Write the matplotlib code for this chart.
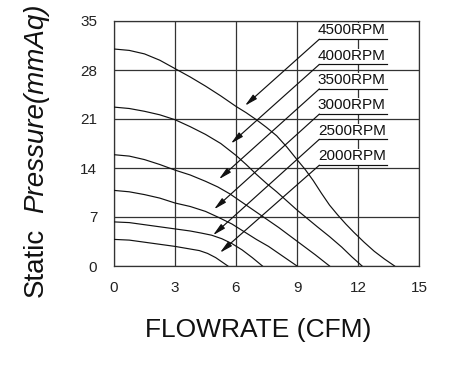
import matplotlib
matplotlib.use("Agg")
import matplotlib.pyplot as plt
from matplotlib.patches import Rectangle

plt.rcParams['font.family'] = ['Liberation Sans', 'DejaVu Sans']

# fan curves (flow in CFM, static pressure in mmAq)
x4500 = [0, 0.75, 1.5, 2.25, 3, 3.75, 4.5, 5.25, 6, 6.5, 7, 7.5, 8, 8.5, 9,
         9.4, 9.8, 10.2, 10.6, 11.0, 11.4, 11.8, 12.3, 12.8, 13.3, 13.8]
y4500 = [31.0, 30.8, 30.3, 29.4, 28.2, 27.0, 25.7, 24.3, 22.8, 21.9, 20.9,
         19.8, 18.6, 17.0, 15.2, 13.8, 12.2, 10.4, 8.7, 7.3, 6.0, 4.8, 3.4,
         2.1, 1.0, 0]

x4000 = [0, 0.75, 1.5, 2.25, 3, 3.75, 4.5, 5.25, 6, 6.5, 7, 7.5, 8, 8.5, 9,
         9.5, 10, 10.6, 11.2, 11.7, 12.2]
y4000 = [22.7, 22.5, 22.1, 21.6, 20.9, 19.9, 18.8, 17.5, 15.8, 14.5, 13.1,
         11.8, 10.6, 9.3, 8.0, 6.8, 5.6, 4.2, 2.7, 1.3, 0]

x3500 = [0, 0.75, 1.5, 2.25, 3, 3.75, 4.5, 5.1, 5.7, 6.3, 6.9, 7.5, 8.1, 8.7,
         9.3, 9.9, 10.6]
y3500 = [15.9, 15.7, 15.2, 14.5, 13.7, 13.0, 12.1, 11.3, 10.3, 9.1, 7.9, 6.7,
         5.5, 4.2, 2.9, 1.6, 0]

x3000 = [0, 0.75, 1.5, 2.25, 3, 3.75, 4.5, 5.1, 5.8, 6.4, 7.0, 7.6, 8.3, 9.0]
y3000 = [10.8, 10.6, 10.2, 9.7, 9.0, 8.5, 7.8, 7.0, 6.0, 4.9, 3.8, 2.8, 1.4, 0]

x2500 = [0, 0.75, 1.5, 2.25, 3, 3.75, 4.3, 4.8, 5.3, 5.8, 6.3, 6.8, 7.3]
y2500 = [6.3, 6.2, 5.9, 5.6, 5.3, 5.0, 4.7, 4.4, 3.9, 3.2, 2.3, 1.2, 0]

x2000 = [0, 0.75, 1.5, 2.25, 3, 3.6, 4.2, 4.6, 5.0, 5.3, 5.6]
y2000 = [3.8, 3.7, 3.4, 3.1, 2.8, 2.5, 2.2, 1.8, 1.2, 0.6, 0]

curves = [(x4500, y4500), (x4000, y4000), (x3500, y3500),
          (x3000, y3000), (x2500, y2500), (x2000, y2000)]

rpm_labels = ['4500RPM', '4000RPM', '3500RPM', '3000RPM', '2500RPM', '2000RPM']
label_y = [32.4, 28.8, 25.3, 21.7, 18.1, 14.4]      # underline level
tip_x = [6.44, 5.75, 5.16, 4.92, 4.87, 5.21]        # where each leader points
tip_y = [22.9, 17.5, 12.4, 8.1, 4.4, 1.9]

xticks = [0, 3, 6, 9, 12, 15]
yticks = [0, 7, 14, 21, 28, 35]

fig = plt.figure(figsize=(4.49, 3.65), dpi=100)
ax = fig.add_axes([114/449, 99/365, 305/449, 245/365])

for xs, ys in curves:
    ax.plot(xs, ys, color='#111111', lw=0.85, zorder=3,
            solid_joinstyle='round')

ax.set_xlim(0, 15)
ax.set_ylim(0, 35)
ax.set_xticks(xticks)
ax.set_yticks(yticks)
ax.tick_params(length=0, labelsize=11, colors='#222222')
ax.tick_params(axis='y', pad=12)
ax.tick_params(axis='x', pad=11)
ax.grid(True, color='#333333', lw=0.9)
ax.set_axisbelow(True)
for sp in ax.spines.values():
    sp.set_color('#333333')
    sp.set_linewidth(0.9)

# labels with underline and arrow
lx0, lx1 = 10.1, 13.45
for lab, ly, tx, ty in zip(rpm_labels, label_y, tip_x, tip_y):
    ax.add_patch(Rectangle((lx0 - 0.1, ly), lx1 - lx0 + 0.2, 2.25,
                           facecolor='white', edgecolor='none', zorder=2))
    ax.text(lx0 - 0.07, ly + 1.25, lab, ha='left', va='center',
            fontsize=11, color='#111111', zorder=4)
    ax.plot([lx0, lx1], [ly, ly], color='#111111', lw=0.85, zorder=4)
    ax.annotate('', xy=(tx, ty), xytext=(lx0, ly),
                arrowprops=dict(arrowstyle='-|>,head_length=0.75,head_width=0.17',
                                color='#111111', lw=0.85,
                                shrinkA=0, shrinkB=0), zorder=4)

fig.text(43/449, (365-262)/365, 'Static', rotation=90, rotation_mode='anchor',
         ha='center', va='baseline', fontsize=20, color='#111111')
fig.text(43/449, (365-108)/365, 'Pressure(mmAq)', rotation=90,
         rotation_mode='anchor', ha='center', va='baseline', fontsize=20,
         style='italic', color='#111111')
fig.text(258/449, 28/365, 'FLOWRATE (CFM)', ha='center', va='baseline',
         fontsize=19, color='#111111')

fig.savefig('out.png', dpi=100)
